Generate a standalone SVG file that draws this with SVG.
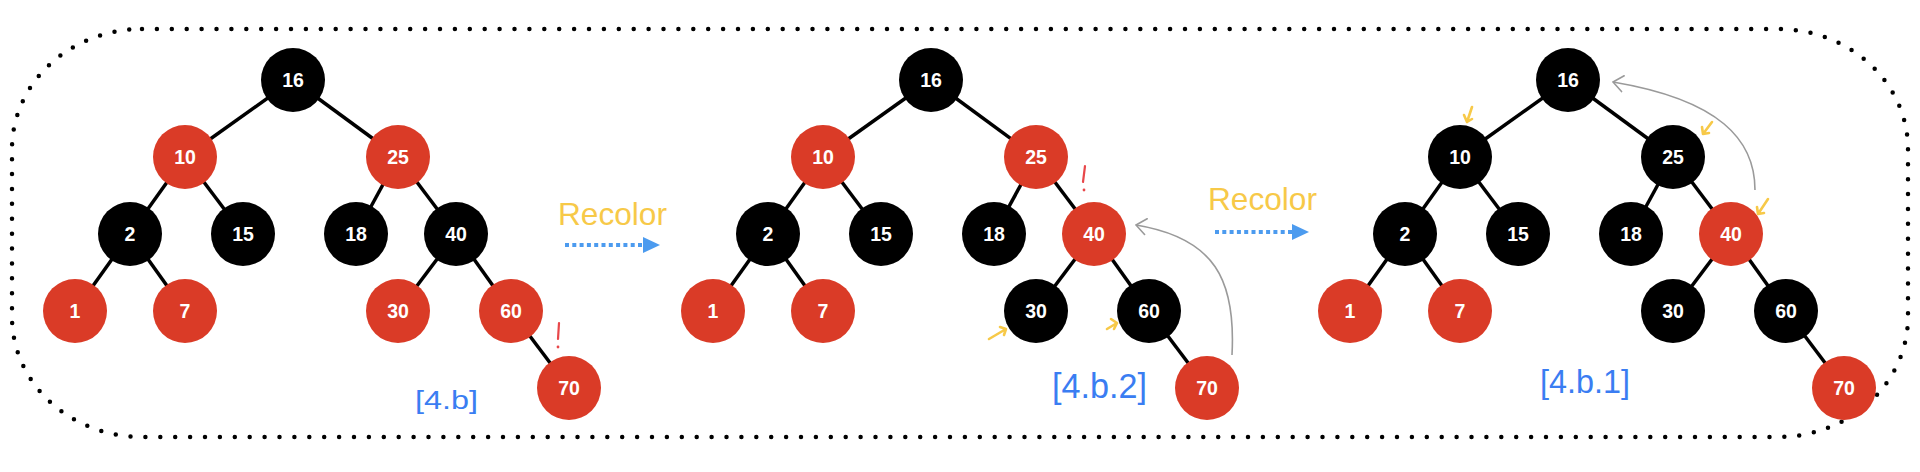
<svg xmlns="http://www.w3.org/2000/svg" width="1920" height="472" viewBox="0 0 1920 472">
<style>
.edge{stroke:#000;stroke-width:3.5;fill:none}
.r{fill:#DA3B27}
.b{fill:#000}
.nt{fill:#fff;font-family:"Liberation Sans",Arial,sans-serif;font-weight:bold;font-size:19.5px;text-anchor:middle}
.frame{fill:none;stroke:#000;stroke-width:4.5;stroke-linecap:round;stroke-dasharray:0 14.9}
.recolor{fill:#F7C948;font-family:"Liberation Sans",Arial,sans-serif;font-size:32px}
.blue-arrow{stroke:#4C9BEF;stroke-width:4;stroke-dasharray:4 3.3;fill:none}
.lbl{fill:#3A7DF2;font-family:"Liberation Sans",Arial,sans-serif}
.gray{stroke:#9A9A9A;stroke-width:1.6;fill:none}
.yel{stroke:#F7C948;stroke-width:2.6;fill:none;stroke-linecap:round;stroke-linejoin:round}
.bang{stroke:#E8474A;stroke-width:2.2;stroke-linecap:round;fill:none}
</style>
<defs>
<marker id="bluehead" viewBox="0 0 17 16" refX="0" refY="8" markerWidth="17" markerHeight="16" markerUnits="userSpaceOnUse" orient="auto">
<path d="M0,0 L17,8 L0,16 Z" fill="#4C9BEF"/>
</marker>
<marker id="grayhead" viewBox="0 0 12 18" refX="11" refY="9" markerWidth="12" markerHeight="18" markerUnits="userSpaceOnUse" orient="auto">
<path d="M1,1 L11,9 L1,17" fill="none" stroke="#9A9A9A" stroke-width="1.6" stroke-linecap="round"/>
</marker>
</defs>
<rect width="1920" height="472" fill="#fff"/>
<rect class="frame" x="12" y="29" width="1896" height="408" rx="130" ry="120"/>

<g id="connectors">
<line class="edge" x1="293" y1="80" x2="185" y2="157"/>
<line class="edge" x1="293" y1="80" x2="398" y2="157"/>
<line class="edge" x1="185" y1="157" x2="130" y2="234"/>
<line class="edge" x1="185" y1="157" x2="243" y2="234"/>
<line class="edge" x1="398" y1="157" x2="356" y2="234"/>
<line class="edge" x1="398" y1="157" x2="456" y2="234"/>
<line class="edge" x1="130" y1="234" x2="75" y2="311"/>
<line class="edge" x1="130" y1="234" x2="185" y2="311"/>
<line class="edge" x1="456" y1="234" x2="398" y2="311"/>
<line class="edge" x1="456" y1="234" x2="511" y2="311"/>
<line class="edge" x1="511" y1="311" x2="569" y2="388"/>

<line class="edge" x1="931" y1="80" x2="823" y2="157"/>
<line class="edge" x1="931" y1="80" x2="1036" y2="157"/>
<line class="edge" x1="823" y1="157" x2="768" y2="234"/>
<line class="edge" x1="823" y1="157" x2="881" y2="234"/>
<line class="edge" x1="1036" y1="157" x2="994" y2="234"/>
<line class="edge" x1="1036" y1="157" x2="1094" y2="234"/>
<line class="edge" x1="768" y1="234" x2="713" y2="311"/>
<line class="edge" x1="768" y1="234" x2="823" y2="311"/>
<line class="edge" x1="1094" y1="234" x2="1036" y2="311"/>
<line class="edge" x1="1094" y1="234" x2="1149" y2="311"/>
<line class="edge" x1="1149" y1="311" x2="1207" y2="388"/>

<line class="edge" x1="1568" y1="80" x2="1460" y2="157"/>
<line class="edge" x1="1568" y1="80" x2="1673" y2="157"/>
<line class="edge" x1="1460" y1="157" x2="1405" y2="234"/>
<line class="edge" x1="1460" y1="157" x2="1518" y2="234"/>
<line class="edge" x1="1673" y1="157" x2="1631" y2="234"/>
<line class="edge" x1="1673" y1="157" x2="1731" y2="234"/>
<line class="edge" x1="1405" y1="234" x2="1350" y2="311"/>
<line class="edge" x1="1405" y1="234" x2="1460" y2="311"/>
<line class="edge" x1="1731" y1="234" x2="1673" y2="311"/>
<line class="edge" x1="1731" y1="234" x2="1786" y2="311"/>
<line class="edge" x1="1786" y1="311" x2="1844" y2="388"/>

<line class="blue-arrow" x1="565" y1="245" x2="643" y2="245" marker-end="url(#bluehead)"/>
<line class="blue-arrow" x1="1215" y1="232" x2="1292" y2="232" marker-end="url(#bluehead)"/>
<path class="gray" d="M1232,355 C1236,280 1215,238 1136,225" marker-end="url(#grayhead)"/>
<path class="gray" d="M1755,190 C1755,140 1720,100 1613,82" marker-end="url(#grayhead)"/>
</g>

<g id="tree1">
<g id="t1-16"><circle class="b" cx="293" cy="80" r="32"/><text class="nt" x="293" y="87">16</text></g>
<g id="t1-10"><circle class="r" cx="185" cy="157" r="32"/><text class="nt" x="185" y="164">10</text></g>
<g id="t1-25"><circle class="r" cx="398" cy="157" r="32"/><text class="nt" x="398" y="164">25</text></g>
<g id="t1-2"><circle class="b" cx="130" cy="234" r="32"/><text class="nt" x="130" y="241">2</text></g>
<g id="t1-15"><circle class="b" cx="243" cy="234" r="32"/><text class="nt" x="243" y="241">15</text></g>
<g id="t1-18"><circle class="b" cx="356" cy="234" r="32"/><text class="nt" x="356" y="241">18</text></g>
<g id="t1-40"><circle class="b" cx="456" cy="234" r="32"/><text class="nt" x="456" y="241">40</text></g>
<g id="t1-1"><circle class="r" cx="75" cy="311" r="32"/><text class="nt" x="75" y="318">1</text></g>
<g id="t1-7"><circle class="r" cx="185" cy="311" r="32"/><text class="nt" x="185" y="318">7</text></g>
<g id="t1-30"><circle class="r" cx="398" cy="311" r="32"/><text class="nt" x="398" y="318">30</text></g>
<g id="t1-60"><circle class="r" cx="511" cy="311" r="32"/><text class="nt" x="511" y="318">60</text></g>
<g id="t1-70"><circle class="r" cx="569" cy="388" r="32"/><text class="nt" x="569" y="395">70</text></g>
</g>

<g id="tree2">
<g id="t2-16"><circle class="b" cx="931" cy="80" r="32"/><text class="nt" x="931" y="87">16</text></g>
<g id="t2-10"><circle class="r" cx="823" cy="157" r="32"/><text class="nt" x="823" y="164">10</text></g>
<g id="t2-25"><circle class="r" cx="1036" cy="157" r="32"/><text class="nt" x="1036" y="164">25</text></g>
<g id="t2-2"><circle class="b" cx="768" cy="234" r="32"/><text class="nt" x="768" y="241">2</text></g>
<g id="t2-15"><circle class="b" cx="881" cy="234" r="32"/><text class="nt" x="881" y="241">15</text></g>
<g id="t2-18"><circle class="b" cx="994" cy="234" r="32"/><text class="nt" x="994" y="241">18</text></g>
<g id="t2-40"><circle class="r" cx="1094" cy="234" r="32"/><text class="nt" x="1094" y="241">40</text></g>
<g id="t2-1"><circle class="r" cx="713" cy="311" r="32"/><text class="nt" x="713" y="318">1</text></g>
<g id="t2-7"><circle class="r" cx="823" cy="311" r="32"/><text class="nt" x="823" y="318">7</text></g>
<g id="t2-30"><circle class="b" cx="1036" cy="311" r="32"/><text class="nt" x="1036" y="318">30</text></g>
<g id="t2-60"><circle class="b" cx="1149" cy="311" r="32"/><text class="nt" x="1149" y="318">60</text></g>
<g id="t2-70"><circle class="r" cx="1207" cy="388" r="32"/><text class="nt" x="1207" y="395">70</text></g>
</g>

<g id="tree3">
<g id="t3-16"><circle class="b" cx="1568" cy="80" r="32"/><text class="nt" x="1568" y="87">16</text></g>
<g id="t3-10"><circle class="b" cx="1460" cy="157" r="32"/><text class="nt" x="1460" y="164">10</text></g>
<g id="t3-25"><circle class="b" cx="1673" cy="157" r="32"/><text class="nt" x="1673" y="164">25</text></g>
<g id="t3-2"><circle class="b" cx="1405" cy="234" r="32"/><text class="nt" x="1405" y="241">2</text></g>
<g id="t3-15"><circle class="b" cx="1518" cy="234" r="32"/><text class="nt" x="1518" y="241">15</text></g>
<g id="t3-18"><circle class="b" cx="1631" cy="234" r="32"/><text class="nt" x="1631" y="241">18</text></g>
<g id="t3-40"><circle class="r" cx="1731" cy="234" r="32"/><text class="nt" x="1731" y="241">40</text></g>
<g id="t3-1"><circle class="r" cx="1350" cy="311" r="32"/><text class="nt" x="1350" y="318">1</text></g>
<g id="t3-7"><circle class="r" cx="1460" cy="311" r="32"/><text class="nt" x="1460" y="318">7</text></g>
<g id="t3-30"><circle class="b" cx="1673" cy="311" r="32"/><text class="nt" x="1673" y="318">30</text></g>
<g id="t3-60"><circle class="b" cx="1786" cy="311" r="32"/><text class="nt" x="1786" y="318">60</text></g>
<g id="t3-70"><circle class="r" cx="1844" cy="388" r="32"/><text class="nt" x="1844" y="395">70</text></g>
</g>

<g id="annotations">
<text class="recolor" x="558" y="225" textLength="109" lengthAdjust="spacingAndGlyphs">Recolor</text>
<text class="recolor" x="1208" y="210" textLength="109" lengthAdjust="spacingAndGlyphs">Recolor</text>
<text class="lbl" x="415" y="409" font-size="26" textLength="63" lengthAdjust="spacingAndGlyphs">[4.b]</text>
<text class="lbl" x="1052" y="398" font-size="35" textLength="95" lengthAdjust="spacingAndGlyphs">[4.b.2]</text>
<text class="lbl" x="1540" y="393" font-size="34" textLength="90" lengthAdjust="spacingAndGlyphs">[4.b.1]</text>
<path class="bang" d="M559,323 L558,339"/><circle cx="558" cy="347" r="1.4" fill="#E8474A"/>
<path class="bang" d="M1085,166 L1083,182"/><circle cx="1084" cy="190" r="1.4" fill="#E8474A"/>
<path class="yel" d="M989,339 L1006,329 M1000,327 L1006,329 L1004,335"/>
<path class="yel" d="M1107,329 L1117,323 M1111,319 L1117,323 L1114,329"/>
<path class="yel" d="M1472,107 L1467,122 M1464,115 L1467,122 L1472,119"/>
<path class="yel" d="M1712,122 L1703,134 M1702,127 L1703,134 L1709,133"/>
<path class="yel" d="M1768,199 L1758,214 M1757,207 L1758,214 L1764,213"/>
</g>
</svg>
